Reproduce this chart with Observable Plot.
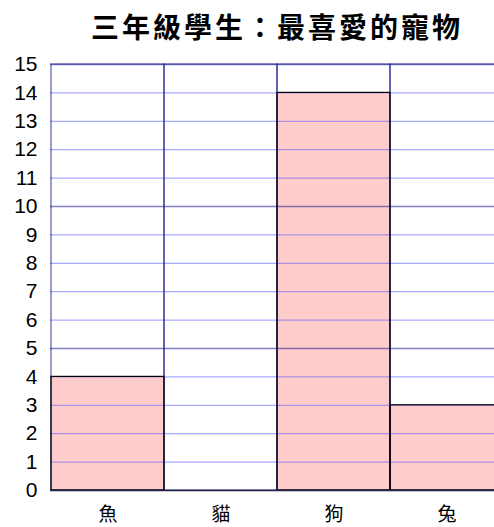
<!DOCTYPE html>
<html>
<head>
<meta charset="utf-8">
<script src="https://cdn.jsdelivr.net/npm/d3@7"></script>
<script src="https://cdn.jsdelivr.net/npm/@observablehq/plot@0.6"></script>
<style>
  html, body { margin: 0; padding: 0; overflow: hidden; background: #fff; width: 494px; height: 527px; }
  #title { position: absolute; left: 50px; top: 1px; width: 454px; height: 50px; line-height: 50px; text-align: center;
    font-family: "Noto Sans CJK TC", sans-serif; font-weight: bold; font-size: 28px; letter-spacing: 3px; color: #000; }
  #chart { position: absolute; left: 0; top: 50px; width: 504px; }
  #chart svg { max-width: none !important; }
</style>
</head>
<body>
<div id="title">三年級學生：最喜愛的寵物</div>
<div id="chart"></div>
<script>
const categories = ["魚", "貓", "狗", "兔"];
const counts = [4, 0, 14, 3];
const yTicks = [0, 1, 2, 3, 4, 5, 6, 7, 8, 9, 10, 11, 12, 13, 14, 15];
const minorLines = [1, 2, 3, 4, 6, 7, 8, 9, 11, 12, 13, 14];
const majorLines = [5, 10, 15];
const yMax = 15;

const data = categories.map((c, i) => ({ pet: c, count: counts[i] }));

const chart = Plot.plot({
  width: 504,
  height: 477,
  marginLeft: 50,
  marginRight: 0,
  marginTop: 14,
  marginBottom: 37,
  x: { domain: categories, padding: 0, label: null },
  y: { domain: [0, yMax], label: null },
  style: { background: "white", overflow: "visible", maxWidth: "none" },
  marks: [
    Plot.barY(data, { x: "pet", y: "count", fill: "#ffcccc" }),
    Plot.ruleY(minorLines, { stroke: "#5555ff", strokeOpacity: 0.5, strokeWidth: 1.2 }),
    Plot.ruleY(majorLines, { stroke: "#1c1c8e", strokeOpacity: 0.55, strokeWidth: 1.6 }),
    Plot.barY(categories, { x: d => d, y1: 0, y2: yMax, fill: "none", stroke: "#1c1c8e", strokeOpacity: 0.55, strokeWidth: 1.6 }),
    Plot.barY(data.filter(d => d.count > 0), { x: "pet", y: "count", fill: "none", stroke: "#000", strokeWidth: 1.2 }),
    Plot.ruleY([0], { stroke: "#222244", strokeWidth: 1.6 }),
    Plot.axisY({ ticks: yTicks, tickSize: 0, tickPadding: 13, tickFormat: d => String(d),
      fontSize: 21, fontFamily: "Liberation Sans", fill: "#000", label: null }),
    Plot.axisX({ tickSize: 0, tickPadding: 17, fontSize: 19, fontFamily: "Noto Sans CJK TC", fill: "#000", label: null })
  ]
});
document.getElementById("chart").appendChild(chart);
</script>
</body>
</html>
